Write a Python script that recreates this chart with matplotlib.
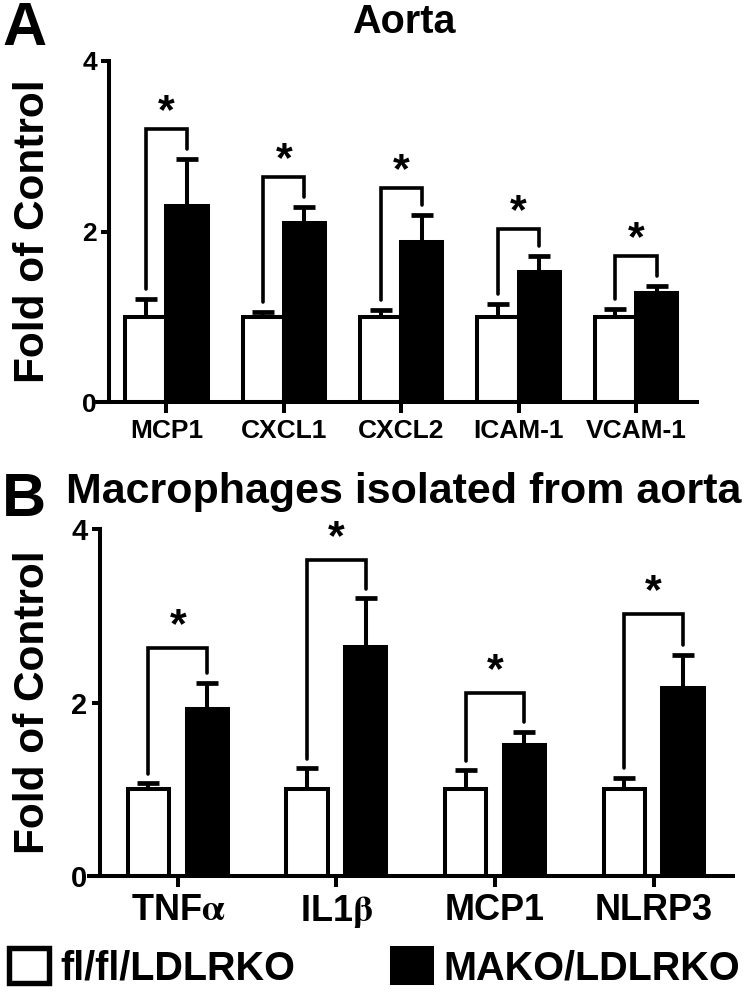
import matplotlib
matplotlib.use('Agg')
import matplotlib.pyplot as plt
from matplotlib.patches import Patch
import numpy as np

plt.rcParams['font.family'] = ['Liberation Sans', 'DejaVu Sans']
plt.rcParams['font.weight'] = 'bold'
plt.rcParams['mathtext.fontset'] = 'stix'

# panel A: aorta
a_genes = ['MCP1', 'CXCL1', 'CXCL2', 'ICAM-1', 'VCAM-1']
a_ctrl = [1.0, 1.0, 1.0, 1.0, 1.0]
a_ctrl_err = [0.21, 0.05, 0.08, 0.15, 0.09]
a_mako = [2.30, 2.10, 1.88, 1.52, 1.28]
a_mako_err = [0.55, 0.19, 0.31, 0.19, 0.08]
a_bracket = [3.20, 2.64, 2.51, 2.03, 1.71]

# panel B: macrophages isolated from aorta
b_genes = [r'TNF$\mathrm{\alpha}$', r'IL1$\mathrm{\beta}$', 'MCP1', 'NLRP3']
b_ctrl = [1.0, 1.0, 1.0, 1.0]
b_ctrl_err = [0.07, 0.24, 0.22, 0.13]
b_mako = [1.93, 2.64, 1.51, 2.17]
b_mako_err = [0.30, 0.56, 0.15, 0.38]
b_bracket = [2.63, 3.64, 2.11, 3.02]

LW = 2.9
W, H = 747, 993

fig = plt.figure(figsize=(W / 100, H / 100), dpi=100)


def px_axes(x0, x1, ytop, ybot):
    return fig.add_axes([x0 / W, (H - ybot) / H, (x1 - x0) / W, (ybot - ytop) / H])


def panel(ax, genes, ctrl, ctrl_err, mako, mako_err, bracket, width, offs,
          xlim, yaxis_x, xfs, yfs, gap, star_off):
    x = np.arange(len(genes))
    ax.bar(x - offs, ctrl, width, color='white', edgecolor='black', linewidth=LW, zorder=2)
    ax.bar(x + offs, mako, width, color='black', edgecolor='black', linewidth=LW, zorder=2)
    for xs, v, e in ((x - offs, ctrl, ctrl_err), (x + offs, mako, mako_err)):
        ax.errorbar(xs, v, yerr=[np.zeros(len(e)), e], fmt='none', ecolor='black',
                    elinewidth=LW, capsize=8, capthick=3.4, zorder=1)
    for i in range(len(genes)):
        xl, xr = x[i] - offs, x[i] + offs
        yl = ctrl[i] + ctrl_err[i] + gap
        yr = mako[i] + mako_err[i] + gap
        ax.plot([xl, xl, xr, xr], [yl, bracket[i], bracket[i], yr], color='black',
                lw=2.6, solid_capstyle='round', solid_joinstyle='miter', clip_on=False)
        ax.annotate('*', (x[i], bracket[i]), xytext=(0, star_off), textcoords='offset points',
                    ha='center', va='center', fontsize=31, fontweight='bold')
    ax.set_xlim(*xlim)
    ax.set_ylim(0, 4)
    for s in ('top', 'right'):
        ax.spines[s].set_visible(False)
    ax.spines['left'].set_position(('data', yaxis_x))
    ax.spines['left'].set_bounds(0, 4)
    for s in ('left', 'bottom'):
        ax.spines[s].set_linewidth(LW)
    ax.set_xticks(x)
    ax.set_xticklabels(genes, fontsize=xfs, fontweight='bold')
    ax.set_yticks([0, 2, 4])
    ax.set_yticklabels(['0', '2', '4'], fontsize=yfs, fontweight='bold')
    ax.tick_params(axis='x', length=8, width=LW, pad=4)
    ax.tick_params(axis='y', length=6, width=LW, pad=3)
    ax.patch.set_visible(False)


axA = px_axes(96, 697, 61, 402)
panel(axA, a_genes, a_ctrl, a_ctrl_err, a_mako, a_mako_err, a_bracket,
      0.35, 0.175, (-0.6, 4.52), -0.485, 19, 19, 0.12, 12)

axB = px_axes(89, 733, 529, 876)
panel(axB, b_genes, b_ctrl, b_ctrl_err, b_mako, b_mako_err, b_bracket,
      0.26, 0.185, (-0.56, 3.5), -0.49, 26, 21, 0.11, 16)

# y labels and titles
fig.text(33 / W, 1 - 231 / H, 'Fold of Control', rotation=90, ha='center', va='center',
         fontsize=30.5, fontweight='bold')
fig.text(33 / W, 1 - 702 / H, 'Fold of Control', rotation=90, ha='center', va='center',
         fontsize=30.5, fontweight='bold')
fig.text(404 / W, 1 - 33 / H, 'Aorta', ha='center', va='baseline', fontsize=28.5, fontweight='bold')
fig.text(404 / W, 1 - 503 / H, 'Macrophages isolated from aorta', ha='center', va='baseline',
         fontsize=31, fontweight='bold')
fig.text(2 / W, 1 - 45 / H, 'A', ha='left', va='baseline', fontsize=44, fontweight='bold')
fig.text(2 / W, 1 - 516 / H, 'B', ha='left', va='baseline', fontsize=44, fontweight='bold')

handles = [Patch(facecolor='white', edgecolor='black', linewidth=LW + 1),
           Patch(facecolor='black', edgecolor='black', linewidth=LW)]
fig.legend(handles, ['fl/fl/LDLRKO', 'MAKO/LDLRKO'], ncol=2, loc='lower left',
           bbox_to_anchor=(9 / W, 6 / H), frameon=False,
           handlelength=1.0, handleheight=1.0, handletextpad=0.3, columnspacing=2.45,
           borderpad=0, borderaxespad=0, prop={'weight': 'bold', 'size': 28.5})

fig.savefig('out.png', dpi=100)
